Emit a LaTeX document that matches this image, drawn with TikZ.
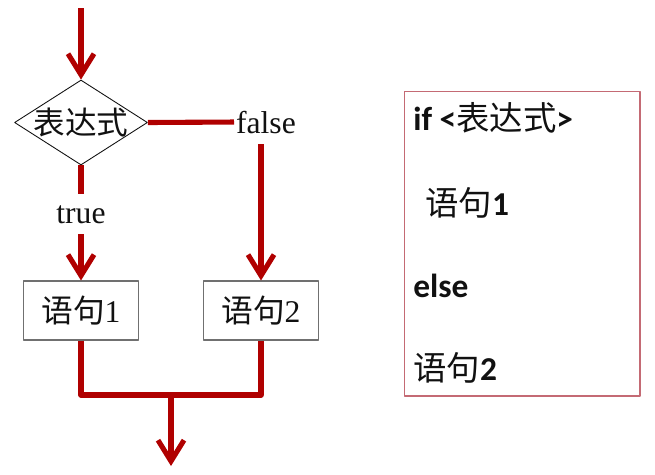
\documentclass[tikz,border=0pt]{standalone}
\usepackage{fontspec}
\setmainfont{Liberation Serif}
\newfontfamily\cjk{Noto Sans CJK SC}
\newfontfamily\codefont{Carlito}
\usepackage{xcolor}
\usetikzlibrary{arrows.meta,positioning,shapes.geometric}
\definecolor{ifRed}{HTML}{B00000}
\definecolor{ifInk}{HTML}{111111}
\definecolor{ifGray}{HTML}{707070}
\definecolor{ifFrame}{HTML}{C46A74}
\tikzset{
  if diagram/.style={x=0.02cm, y=-0.02cm, text=ifInk,
    font=\fontsize{18}{22}\selectfont, line join=round},
  if line/.style={draw=ifRed, line width=2.9pt},
  if arrow/.style={if line, -{Straight Barb[length=4.2mm, width=5.2mm]}},
  if test/.style={shape=diamond, draw=ifInk, line width=0.5pt,
    minimum width=2.66cm, minimum height=1.7cm, inner sep=0pt},
  if box/.style={draw=ifGray, line width=0.6pt,
    minimum width=2.3cm, minimum height=1.18cm, inner sep=0pt},
  if label/.style={inner xsep=1pt, inner ysep=6pt},
  if code/.style={draw=ifFrame, line width=0.6pt,
    minimum width=4.72cm, minimum height=6.1cm, inner sep=0pt},
  if text/.style={anchor=base west, inner sep=0pt,
    font=\codefont\bfseries\fontsize{19}{23}\selectfont}
}
\begin{document}
\begin{tikzpicture}[if diagram]
\useasboundingbox (0,0) rectangle (655,474);
% flow chart
\coordinate (start) at (81,8);
\node[if test, label=center:{\cjk 表达式}] (expr) at (81,122.5) {};
\node[if label, anchor=base west] (false) at (234,133) {false};
\node[if label, anchor=base] (true) at (81,223) {true};
\node[if box] (box1) at (81,310.5) {\cjk 语句\rmfamily 1};
\node[if box] (box2) at (261,310.5) {\cjk 语句\rmfamily 2};
\coordinate (join) at (171,395);
\coordinate (end) at (171,466);
\draw[if arrow] (start) -- (expr.north);
\draw[if line] (expr.east) -- (false.west);
\draw[if arrow] (false.south -| box2.north) -- (box2.north);
\draw[if line] (expr.south) -- (true.north);
\draw[if arrow] (true.south) -- (box1.north);
\draw[if line] (box1.south) |- (join) -| (box2.south);
\draw[if arrow] (join) -- (end);
% code
\node[if code] (code) at (522,243.5) {};
\node[if text] (ifline) at (413,130) {if <{\cjk\mdseries 表达式}>};
\node[if text] (then) at (425,215) {{\cjk\mdseries 语句}1};
\node[if text] (else) at (413,297) {else};
\node[if text] (other) at (413,380) {{\cjk\mdseries 语句}2};
\end{tikzpicture}
\end{document}
